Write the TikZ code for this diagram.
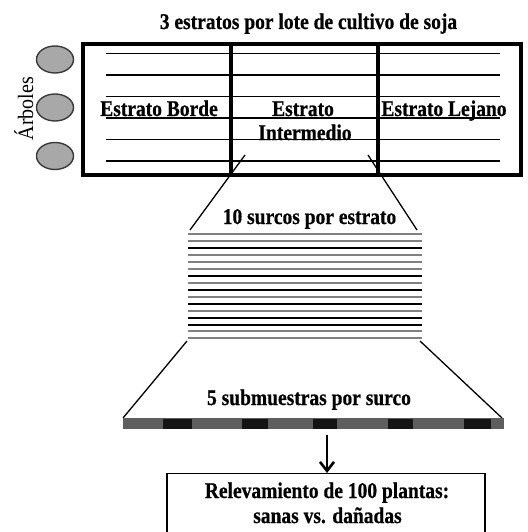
\documentclass[tikz,border=0pt]{standalone}
\usepackage{fontspec}
\usepackage{graphicx}
\setmainfont{Liberation Serif}
\newfontfamily\heavyfont[FakeBold=0.7]{Liberation Serif Bold}
\usetikzlibrary{shapes.geometric,arrows.meta}
\definecolor{treefill}{HTML}{A8A8A8}
\definecolor{treeline}{HTML}{3A3A3A}
\definecolor{rowgray}{HTML}{808080}
\definecolor{bargray}{HTML}{5E5E5E}
\newcommand{\tallbf}[1]{\scalebox{1}[1.15]{\fontsize{19.5}{22}\selectfont\heavyfont #1}}
\tikzset{
  lbl/.style={inner sep=0pt, anchor=base},
  thin/.style={line width=1.3pt, black},
  tree/.style={ellipse, draw=treeline, fill=treefill, line width=1.4pt, minimum width=37pt, minimum height=27pt, inner sep=0pt},
  frame/.style={line width=4pt, black},
}
\begin{document}
\begin{tikzpicture}[x=1pt, y=-1pt]
\useasboundingbox (0,0) rectangle (527,532);
\clip (0,0) rectangle (527,532);
% title
\node[lbl] (title) at (308.5,29) {\tallbf{3 estratos por lote de cultivo de soja}};
% trees
\node[tree] (t1) at (55,59.5) {};
\node[tree] (t2) at (55,107.5) {};
\node[tree] (t3) at (55,156) {};
\node[inner sep=0pt, anchor=base, rotate=90] (arb) at (33,108.5) {\scalebox{1}[1.1]{\fontsize{20}{22}\selectfont Árboles}};
% rows inside field
\foreach \yy in {53.5,75,96.5,118,139.5,161}
  \draw[thin] (106,\yy) -- (500,\yy);
% field frame
\draw[frame] (83,44) rectangle (521,175);
\coordinate (d1t) at (230.5,44);
\coordinate (d1b) at (230.5,175);
\coordinate (d2t) at (377.5,44);
\coordinate (d2b) at (377.5,175);
\draw[frame] (d1t) -- (d1b);
\draw[frame] (d2t) -- (d2b);
% strata labels
\node[lbl] (borde) at (159,116) {\tallbf{Estrato Borde}};
\node[lbl] (inter1) at (303,116) {\tallbf{Estrato}};
\node[lbl] (inter2) at (305,140) {\tallbf{Intermedio}};
\node[lbl] (lejano) at (444,116) {\tallbf{Estrato Lejano}};
% upper funnel
\coordinate (fa1) at (245,155);
\coordinate (fa2) at (190,230);
\coordinate (fb1) at (368,155);
\coordinate (fb2) at (417,230);
\draw[thin] (fa1) -- (fa2);
\draw[thin] (fb1) -- (fb2);
\node[lbl] (surcos) at (309.5,224) {\tallbf{10 surcos por estrato}};
% stacked furrows
\foreach \yy/\cc in {234/rowgray,241/rowgray,248/black,255/rowgray,262/rowgray,269/rowgray,276/black,283/rowgray,290/black,297/rowgray,304/black,311/rowgray,318/black,325/black,331/rowgray,338/rowgray}
  \draw[line width=1.8pt, \cc] (188,\yy) -- (422,\yy);
% lower funnel
\coordinate (ga1) at (187,341);
\coordinate (ga2) at (123,418);
\coordinate (gb1) at (420,341);
\coordinate (gb2) at (502,418);
\draw[thin] (ga1) -- (ga2);
\draw[thin] (gb1) -- (gb2);
\node[lbl] (sub) at (309,405) {\tallbf{5 submuestras por surco}};
% furrow bar with subsamples
\fill[bargray] (123,418) rectangle (504,429);
\foreach \xa/\xb in {163/192,242/268,313/337,388/413,464/491}
  \fill[black!92] (\xa,418.5) rectangle (\xb,428.5);
% result box
\node[draw, line width=1.3pt, minimum width=318pt, minimum height=80pt, anchor=north, inner sep=0pt] (box) at (326,473) {};
\node[lbl] (rel1) at (327,498) {\tallbf{Relevamiento de 100 plantas:}};
\node[lbl] (rel2) at (327.5,523) {\tallbf{sanas vs. dañadas}};
\coordinate (arrs) at (327,435);
\draw[line width=2.6pt, -{Straight Barb[length=9pt, width=14pt, line width=2.6pt]}] (arrs) -- (box.north -| arrs);
\end{tikzpicture}
\end{document}
